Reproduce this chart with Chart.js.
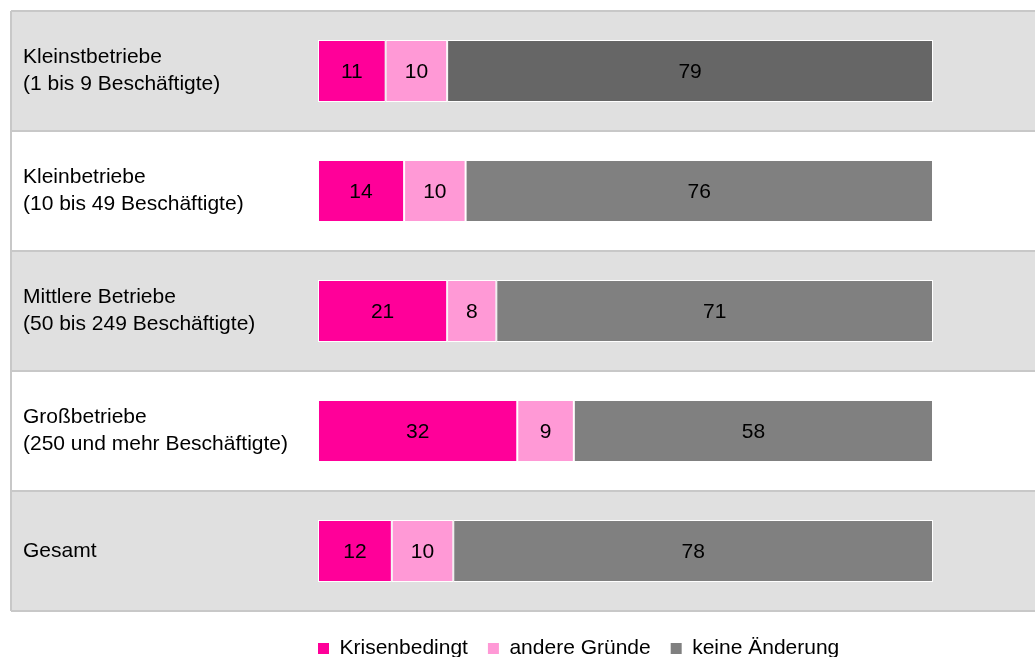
<!DOCTYPE html>
<html>
<head>
<meta charset="utf-8">
<script src="https://cdn.jsdelivr.net/npm/chart.js@4"></script>
<style>
  body { margin: 0; background: #fff; }
  #wrap { width: 1035px; height: 657px; }
</style>
</head>
<body>
<div id="wrap"><canvas id="chartBetriebe" width="1035" height="657"></canvas></div>
<script>
const categories = [
  ['Kleinstbetriebe', '(1 bis 9 Beschäftigte)'],
  ['Kleinbetriebe', '(10 bis 49 Beschäftigte)'],
  ['Mittlere Betriebe', '(50 bis 249 Beschäftigte)'],
  ['Großbetriebe', '(250 und mehr Beschäftigte)'],
  ['Gesamt']
];
const krisenbedingt = [11, 14, 21, 32.4, 12];
const andereGruende = [10, 10, 8, 9.2, 10];
const keineAenderung = [79, 76, 71, 58.4, 78];
const seriesNames = ['Krisenbedingt', 'andere Gründe', 'keine Änderung'];

const fontFamily = "'Liberation Sans', Arial, sans-serif";
const colors = {
  krise: '#ff0099',
  andere: '#ff99d6',
  keine: ['#666666', '#808080', '#808080', '#808080', '#808080'],
  band: '#e0e0e0',
  frame: '#c8c8c8'
};

// grey/white row bands plus the frame, drawn under the tick labels
const bandPlugin = {
  id: 'bands',
  beforeDraw(chart) {
    const { ctx } = chart;
    const y = chart.scales.y;
    const step = y.getPixelForValue(1) - y.getPixelForValue(0);
    const left = y.left - 12;
    const right = chart.width;
    ctx.save();
    categories.forEach((c, i) => {
      const top = y.getPixelForValue(i) - step / 2;
      ctx.fillStyle = i % 2 === 0 ? colors.band : '#ffffff';
      ctx.fillRect(left, top, right - left, step);
    });
    ctx.strokeStyle = colors.frame;
    ctx.lineWidth = 2;
    ctx.beginPath();
    for (let i = 0; i <= categories.length; i++) {
      const yy = y.getPixelForValue(i) - step / 2;
      ctx.moveTo(left, yy); ctx.lineTo(right, yy);
    }
    const top = y.getPixelForValue(0) - step / 2;
    const bottom = y.getPixelForValue(categories.length - 1) + step / 2;
    ctx.moveTo(left, top); ctx.lineTo(left, bottom);
    ctx.stroke();
    ctx.restore();
  },
  afterLayout(chart) {
    // legend sits under the bars, starting at the bar origin
    const lg = chart.legend;
    const pad = lg.options.labels.padding;
    lg.left = chart.chartArea.left - pad;
    lg.top = 638 - pad;
  }
};

const valuePlugin = {
  id: 'values',
  afterDatasetsDraw(chart) {
    const { ctx } = chart;
    ctx.save();
    ctx.font = '21px ' + fontFamily;
    ctx.fillStyle = '#000';
    ctx.textAlign = 'center';
    ctx.textBaseline = 'middle';
    chart.data.datasets.forEach((ds, di) => {
      chart.getDatasetMeta(di).data.forEach((bar, i) => {
        ctx.fillText(Math.round(ds.data[i]), (bar.x + bar.base) / 2, bar.y + 1);
      });
    });
    ctx.restore();
  }
};

(() => {
  'use strict'
  const ctx = document.getElementById('chartBetriebe').getContext('2d');
  new Chart(ctx, {
    type: 'bar',
    data: {
      labels: categories,
      datasets: [
        { label: seriesNames[0], data: krisenbedingt, backgroundColor: colors.krise },
        { label: seriesNames[1], data: andereGruende, backgroundColor: colors.andere },
        { label: seriesNames[2], data: keineAenderung, backgroundColor: colors.keine }
      ].map(d => Object.assign(d, {
        borderColor: '#ffffff', borderWidth: 1, borderSkipped: false,
        barPercentage: 1, categoryPercentage: 0.515
      }))
    },
    options: {
      indexAxis: 'y',
      responsive: false,
      animation: false,
      devicePixelRatio: 1,
      layout: { padding: { left: 23, right: 102, top: 11, bottom: -5 } },
      scales: {
        x: { stacked: true, min: 0, max: 100, display: false },
        y: {
          stacked: true,
          grid: { display: false },
          border: { display: false },
          ticks: {
            crossAlign: 'far', autoSkip: false, color: '#000',
            font: { family: fontFamily, size: 21, lineHeight: 1.27 }
          },
          afterFit(scale) {
            scale.width = 295;
            scale.paddingTop = 0;
            scale.paddingBottom = 0;
          }
        }
      },
      plugins: {
        legend: {
          position: 'bottom',
          align: 'start',
          labels: {
            boxWidth: 11, boxHeight: 11, padding: 20, color: '#000',
            font: { family: fontFamily, size: 21 },
            generateLabels(chart) {
              return chart.data.datasets.map((d, i) => ({
                text: d.label, datasetIndex: i, lineWidth: 0,
                fillStyle: i === 2 ? '#808080' : d.backgroundColor,
                strokeStyle: 'transparent'
              }));
            }
          }
        },
        tooltip: { enabled: false }
      }
    },
    plugins: [bandPlugin, valuePlugin]
  });
})();
</script>
</body>
</html>
